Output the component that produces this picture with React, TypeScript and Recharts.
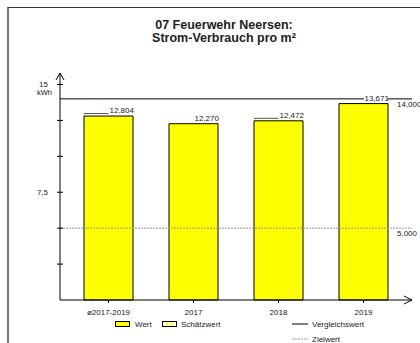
import React from "react";
import {
  ComposedChart,
  Bar,
  XAxis,
  YAxis,
  ReferenceLine,
  LabelList,
} from "recharts";

const categories = ["ø2017-2019", "2017", "2018", "2019"];
const values = [12.804, 12.27, 12.472, 13.671];
const leaderLines = [true, false, true, false];
const vergleichswert = 14.0;
const zielwert = 5.0;
const yTicks = [2.5, 5, 7.5, 10, 12.5, 15];
const yTickLabels: Record<string, string> = { "7.5": "7,5", "15": "15" };
const yUnit = "kWh";
const yMax = 15.8;
const titleLines = ["07 Feuerwehr Neersen:", "Strom-Verbrauch pro m²"];

const data = categories.map((name, i) => ({ name, value: values[i], leader: leaderLines[i] }));

const FONT = "'Liberation Sans', Arial, Helvetica, sans-serif";
const fmt = (v: number) => v.toFixed(3).replace(".", ",");

const YTick = (props: any) => {
  const { x, y, payload } = props;
  const key = String(payload.value);
  const label = yTickLabels[key];
  return (
    <g>
      <line x1={x - 3} x2={x + 3} y1={y} y2={y} stroke="#000" strokeWidth={1} />
      {label && (
        <text x={x - 12} y={y + 3} textAnchor="end" fontSize={8} fontFamily={FONT} fill="#222">
          {label}
        </text>
      )}
      {key === "15" && (
        <text x={x - 8} y={y + 11} textAnchor="end" fontSize={7.5} fontFamily={FONT} fill="#222">
          {yUnit}
        </text>
      )}
    </g>
  );
};

const BarValueLabel = (props: any) => {
  const { x, y, width, value, index } = props;
  const cx = x + width / 2;
  const showLeader = data[index] && data[index].leader;
  return (
    <g>
      {showLeader && (
        <line x1={x} x2={cx} y1={y - 2.5} y2={y - 2.5} stroke="#555" strokeWidth={1} />
      )}
      <rect x={cx + 0.5} y={y - 9.5} width={width / 2 - 1} height={8} fill="#fff" />
      <text x={cx + 1} y={y - 3} fontSize={8} fontFamily={FONT} fill="#222">
        {fmt(value)}
      </text>
    </g>
  );
};

const RefLabel = (text: string) => (props: any) => {
  const vb = props.viewBox || {};
  return (
    <text x={vb.x + vb.width - 15} y={vb.y + 8} fontSize={8} fontFamily={FONT} fill="#222">
      {text}
    </text>
  );
};

const XArrow = (props: any) => {
  const { x2, y2 } = props;
  return (
    <path d={`M${x2 - 8},${y2 - 4} L${x2},${y2} L${x2 - 8},${y2 + 4}`} fill="none" stroke="#000" strokeWidth={1} />
  );
};

const YArrow = (props: any) => {
  const { x1, y1 } = props;
  return (
    <path d={`M${x1 - 4},${y1 + 7} L${x1},${y1} L${x1 + 4},${y1 + 7}`} fill="none" stroke="#000" strokeWidth={1} />
  );
};

export default function App() {
  return (
    <div
      style={{
        position: "absolute",
        left: 0,
        top: 0,
        width: 420,
        height: 343,
        overflow: "hidden",
        background: "#fff",
        fontFamily: FONT,
      }}
    >
      <div
        style={{
          position: "absolute",
          left: 7,
          top: 7,
          width: 420,
          height: 343,
          borderLeft: "2px solid #777",
          borderTop: "1px solid #333",
        }}
      />
      <div
        style={{
          position: "absolute",
          left: 74,
          top: 18.5,
          width: 300,
          textAlign: "center",
          fontSize: 12.5,
          lineHeight: "13px",
          fontWeight: "bold",
          color: "#222",
        }}
      >
        {titleLines.map((t) => (
          <div key={t}>{t}</div>
        ))}
      </div>
      <div style={{ position: "absolute", left: 0, top: 0 }}>
        <ComposedChart
          width={420}
          height={343}
          data={data}
          margin={{ top: 73, right: 8, bottom: 13, left: 0 }}
        >
          <XAxis
            dataKey="name"
            interval={0}
            padding={{ left: 6, right: 6 }}
            height={30}
            tickSize={3}
            tickMargin={6}
            axisLine={{ stroke: "#000", strokeWidth: 1 }}
            tickLine={{ stroke: "#000" }}
            tick={{ fontSize: 8, fill: "#222", fontFamily: FONT }}
          />
          <YAxis
            type="number"
            domain={[0, yMax]}
            ticks={yTicks}
            width={60}
            tickSize={0}
            tickMargin={0}
            tickLine={false}
            axisLine={{ stroke: "#000", strokeWidth: 1 }}
            tick={<YTick />}
            interval={0}
          />
          <ReferenceLine
            y={zielwert}
            stroke="#999"
            strokeDasharray="2 1"
            label={RefLabel(fmt(zielwert))}
          />
          <ReferenceLine
            y={vergleichswert}
            stroke="#000"
            strokeWidth={1}
            label={RefLabel(fmt(vergleichswert))}
          />
          <ReferenceLine y={0} stroke="#000" shape={XArrow} />
          <ReferenceLine y={yMax} stroke="#000" shape={YArrow} />
          <Bar
            dataKey="value"
            barSize={49}
            fill="#FFFF00"
            stroke="#000"
            strokeWidth={1}
            isAnimationActive={false}
          >
            <LabelList dataKey="value" content={<BarValueLabel />} />
          </Bar>
        </ComposedChart>
      </div>
      <svg
        width={420}
        height={343}
        style={{ position: "absolute", left: 0, top: 0, pointerEvents: "none" }}
      >
        <g fontFamily={FONT} fontSize={8} fill="#222">
          <rect x={115.5} y={321.5} width={14} height={5} fill="#FFFF00" stroke="#000" />
          <text x={135} y={327}>Wert</text>
          <rect x={162.5} y={321.5} width={14} height={5} fill="#fff" stroke="#000" />
          <path d="M166,322 L173,326 L173,322 L166,326 Z" fill="#FFFF00" />
          <text x={181} y={327}>Schätzwert</text>
          <line x1={292} x2={308} y1={324} y2={324} stroke="#000" />
          <text x={312} y={327}>Vergleichswert</text>
          <line x1={292} x2={308} y1={339} y2={339} stroke="#999" strokeDasharray="2 1" />
          <text x={312} y={342}>Zielwert</text>
        </g>
      </svg>
    </div>
  );
}
